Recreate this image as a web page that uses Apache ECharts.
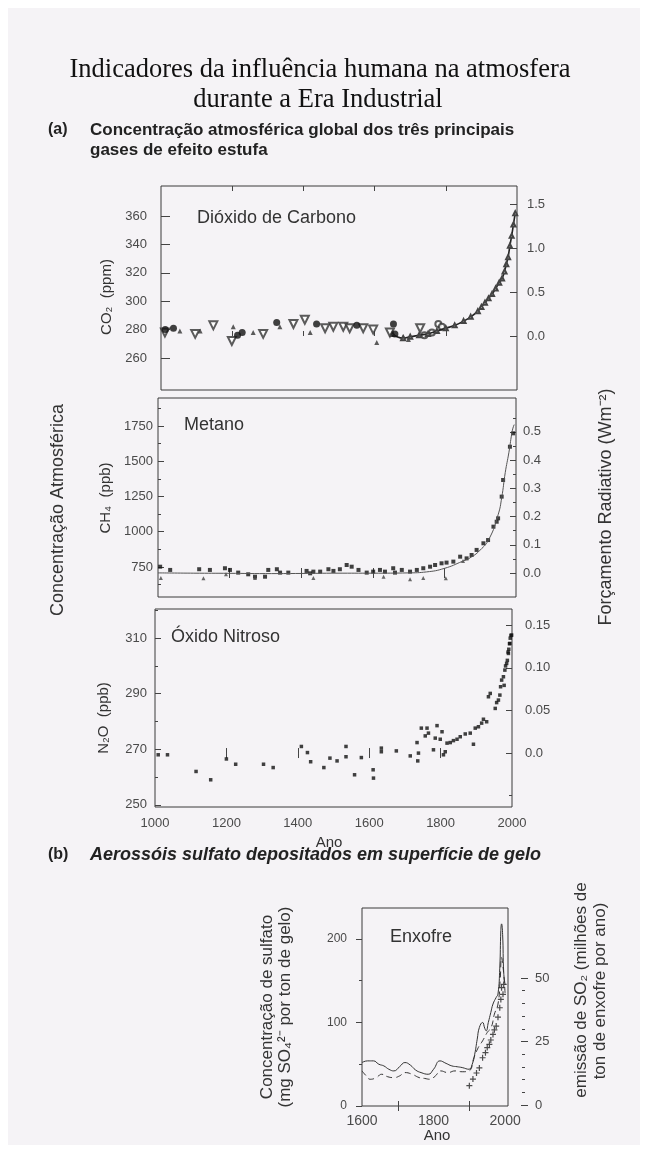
<!DOCTYPE html>
<html>
<head>
<meta charset="utf-8">
<script src="https://cdn.jsdelivr.net/npm/echarts@6/dist/echarts.min.js"></script>
<style>
html,body{margin:0;padding:0;background:#fff}
#c{width:648px;height:1153px}
</style>
</head>
<body>
<div id="c"></div>
<script>
// ---- Data: (year, value) ----
// CO2 (ppm): ice-core / firn trend and direct measurements
const co2Curve = [[1650,277],[1680,274],[1700,275],[1725,276],[1750,277],[1775,279],[1800,281],[1825,283],[1850,286],[1870,289],[1890,293],[1900,296],[1910,299],[1920,302],[1930,305],[1940,309],[1950,313],[1958,316],[1965,321],[1970,326],[1975,331],[1980,339],[1985,346],[1990,354],[1995,362]];
const co2Dots = [[1012,280],[1035,281],[1215,276],[1228,278],[1325,285],[1437,284],[1550,283],[1653,284],[1657,277]];
const co2InvTri = [[1011,278],[1096,277],[1147,283],[1199,272],[1287,277],[1372,284],[1404,287],[1461,281],[1484,282],[1512,282],[1530,281],[1568,281],[1596,280],[1643,278],[1728,281]];
const co2Tri = [[1053,279],[1110,279],[1203,282],[1259,278],[1334,282],[1419,278],[1606,271],[1681,275],[1695,273]];
const co2Ring = [[1740,276],[1761,278],[1779,284],[1789,282]];

// CH4 (ppb)
const ch4Curve = [[1000,708],[1100,706],[1200,705],[1300,703],[1400,704],[1500,706],[1600,706],[1700,708],[1750,715],[1800,740],[1850,790],[1875,820],[1900,870],[1925,950],[1950,1120],[1960,1240],[1970,1420],[1980,1560],[1990,1720],[1995,1760]];
const ch4Pts = [[1006,752],[1034,729],[1115,734],[1145,729],[1187,741],[1201,729],[1224,710],[1252,698],[1271,681],[1299,681],[1308,729],[1332,734],[1341,710],[1364,710],[1415,722],[1425,705],[1434,717],[1453,717],[1476,734],[1490,722],[1508,734],[1527,764],[1541,752],[1560,729],[1583,710],[1601,717],[1620,729],[1634,717],[1657,741],[1662,710],[1681,729],[1704,717],[1723,729],[1741,741],[1760,752],[1774,764],[1792,776],[1806,781],[1825,788],[1844,823],[1862,811],[1876,835],[1890,871],[1909,918],[1922,941],[1937,1036],[1946,1071],[1950,1095],[1960,1249],[1964,1367],[1983,1603],[1992,1698]];
const ch4Tri = [[1008,672],[1127,670],[1190,698],[1271,672],[1434,672],[1630,680],[1704,663],[1741,672],[1804,670],[1852,792]];

// N2O (ppb)
const n2oPts = [[1009,268],[1035,268],[1115,262],[1156,259],[1200,266.5],[1226,264.6],[1304,264.6],[1331,263.4],[1410,271],[1427,268.8],[1436,265.5],[1473,263.4],[1490,266.8],[1510,265.8],[1535,271],[1535,267.3],[1559,260.8],[1578,267],[1611,262.6],[1612,259.6],[1634,270.4],[1634,269.1],[1676,269.4],[1715,267.6],[1736,265.8],[1738,268.6],[1734,272.4],[1746,277.6],[1762,277.6],[1757,274.8],[1766,275.8],[1780,269.8],[1790,278.5],[1785,274],[1799,273.6],[1804,276.3],[1808,268],[1813,269.1],[1818,272.2],[1827,272.4],[1836,273.1],[1846,273.6],[1855,274.5],[1869,275.5],[1883,275.8],[1892,271.8],[1897,277.6],[1906,278.1],[1915,279.4],[1920,280.8],[1929,279.9],[1934,288.9],[1939,290.1],[1953,284.7],[1957,286.8],[1962,287.7],[1966,289.5],[1968,292.5],[1971,294.9],[1976,296.1],[1978,293],[1980,298.5],[1982,300],[1985,300.9],[1987,302],[1989,305],[1990,304.5],[1991,306],[1993,308],[1994,308.1],[1995,310],[1997,311],[1999,311.1]];

// Sulfate in Greenland ice (mg SO4 per ton of ice) and SO2 emissions (Mt S per year)
const sulfSolid = [[1600,52],[1615,54],[1632,54],[1647,50],[1661,48],[1675,44],[1689,42],[1705,47],[1720,52],[1735,49],[1750,43],[1765,40],[1785,38],[1800,44],[1818,54],[1835,51],[1851,48],[1866,47],[1880,46],[1899,44],[1908,50],[1915,62],[1922,80],[1928,94],[1937,100],[1943,93],[1947,90],[1953,100],[1960,112],[1966,122],[1975,130],[1980,134],[1985,165],[1988,210],[1990,218],[1993,205],[1996,160],[2000,145]];
const sulfDash = [[1600,42],[1612,36],[1623,32],[1640,34],[1655,38],[1672,35],[1689,34],[1705,36],[1720,40],[1740,38],[1760,34],[1775,33],[1790,32],[1805,36],[1820,42],[1840,40],[1860,42],[1880,41],[1899,42],[1913,58],[1925,70],[1937,78],[1950,88],[1961,94],[1970,110],[1980,122],[1986,150],[1990,178],[1993,170],[1996,158],[2000,134]];
const so2Emis = [[1900,8],[1910,10.6],[1920,13],[1928,15],[1937,19],[1945,21],[1950,23],[1956,24.3],[1960,26],[1966,28.2],[1970,30],[1975,31.5],[1980,35],[1985,38.7],[1988,42],[1990,46.6],[1994,44],[1996,47.9]];

// ---- Tick values ----
const yearTicks = [1000,1200,1400,1600,1800,2000];
const yearInnerTicks = [1200,1400,1600,1800];
const co2Ticks = [260,280,300,320,340,360];
const co2ForcingTicks = [0,0.5,1.0,1.5];
const ch4Ticks = [750,1000,1250,1500,1750];
const ch4MinorTicks = [625,875,1125,1375,1625,1875];
const ch4ForcingTicks = [0,0.1,0.2,0.3,0.4,0.5];
const ch4ForcingMinor = [0.05,0.15,0.25,0.35,0.45,0.55];
const n2oTicks = [250,270,290,310];
const n2oMinorTicks = [260,280,300,320];
const n2oForcingTicks = [0,0.05,0.10,0.15];
const n2oForcingMinor = [-0.05];
const sulfYearTicks = [1600,1800,2000];
const sulfYearInner = [1700,1900];
const sulfTicks = [0,100,200];
const sulfMinor = [50,150];
const so2Ticks = [0,25,50];
const so2Minor = [5,10,15,20,30,35,40,45];

// ---- Styling helpers ----
const INK = '#222';
const TICKCOL = '#444';
const SANS = '"Liberation Sans", Arial, sans-serif';
const LBL = {color:'#4a4a4a', fontFamily:SANS, fontSize:13};
const plain = v => String(v);

function xAx(grid, min, max, pos, ticks, labels, lblExtra) {
  return {
    gridIndex:grid, type:'value', min:min, max:max, position:pos,
    axisLine:{show:false},
    axisTick:{show:true, inside:true, length:5, lineStyle:{color:TICKCOL}, customValues:ticks},
    axisLabel:labels ? Object.assign({}, LBL, {customValues:labels, margin:10, formatter:plain}, lblExtra || {}) : {show:false},
    splitLine:{show:false}
  };
}
function yAx(grid, min, max, pos, ticks, tickLen, inside, labels, margin, fmt, lblExtra) {
  return {
    gridIndex:grid, type:'value', min:min, max:max, position:pos,
    axisLine:{show:false},
    axisTick:{show:true, inside:inside, length:tickLen, lineStyle:{color:TICKCOL}, customValues:ticks},
    axisLabel:labels ? Object.assign({}, LBL, {customValues:labels, margin:margin, formatter:fmt || plain}, lblExtra || {}) : {show:false},
    splitLine:{show:false}
  };
}
const f1 = v => v.toFixed(1);
const f2 = v => (v === 0 ? '0.0' : v.toFixed(2));

const boxStyle = {show:true, borderColor:'#3a3a3a', borderWidth:1, backgroundColor:'transparent'};

const option = {
  animation:false,
  backgroundColor:'#ffffff',
  grid:[
    Object.assign({left:161, top:186, width:356, height:204}, boxStyle),
    Object.assign({left:158, top:398, width:358, height:199}, boxStyle),
    Object.assign({left:155, top:609, width:357, height:198}, boxStyle),
    Object.assign({left:362, top:908, width:146, height:198}, boxStyle),
    {left:521, top:978, width:1, height:127, show:false}
  ],
  xAxis:[
    xAx(0,1000,2000,'bottom',yearInnerTicks,null),
    xAx(0,1000,2000,'top',yearInnerTicks,null),
    xAx(1,1000,2000,'bottom',yearInnerTicks,null),
    xAx(1,1000,2000,'top',yearInnerTicks,null),
    xAx(2,1000,2000,'bottom',yearInnerTicks,yearTicks),
    xAx(2,1000,2000,'top',yearInnerTicks,null),
    xAx(3,1600,2008,'bottom',sulfYearInner,sulfYearTicks,{margin:8,fontSize:14}),
    xAx(3,1600,2008,'top',sulfYearInner,null),
    {gridIndex:4, type:'value', min:0, max:1, show:false}
  ],
  yAxis:[
    // 0,1: CO2 panel
    yAx(0,237.5,381.1,'left',co2Ticks,9,true,co2Ticks,14),
    yAx(0,-0.614,1.705,'right',co2ForcingTicks,7,true,co2ForcingTicks,10,f1),
    // 2-5: CH4 panel
    yAx(1,537,1948.6,'left',ch4Ticks,6,true,ch4Ticks,5),
    yAx(1,537,1948.6,'left',ch4MinorTicks,3,true,null),
    yAx(1,-0.085,0.62,'right',ch4ForcingTicks,6,true,ch4ForcingTicks,7,f1),
    yAx(1,-0.085,0.62,'right',ch4ForcingMinor,3,true,null),
    // 6-9: N2O panel
    yAx(2,249.2,320.5,'left',n2oTicks,6,true,n2oTicks,8),
    yAx(2,249.2,320.5,'left',n2oMinorTicks,3,true,null),
    yAx(2,-0.0633,0.169,'right',n2oForcingTicks,6,true,n2oForcingTicks,13,f2),
    yAx(2,-0.0633,0.169,'right',n2oForcingMinor,3,true,null),
    // 10-12: sulfate panel (12 carries the emission scale, drawn on grid 4)
    yAx(3,0,237,'left',sulfTicks,6,false,sulfTicks,15,null,{fontSize:12}),
    yAx(3,0,237,'left',sulfMinor,3,false,null),
    {gridIndex:3, type:'value', min:0, max:78, position:'right', show:false},
    // 13,14: SO2 emission axis
    yAx(4,0,50,'right',so2Ticks,7,false,so2Ticks,13,null,{fontSize:13}),
    yAx(4,0,50,'right',so2Minor,3,false,null)
  ],
  series:[
    {type:'line', name:'co2', xAxisIndex:0, yAxisIndex:0, data:co2Curve, smooth:true,
     lineStyle:{color:'#222', width:1.6}, symbol:'emptyTriangle', symbolSize:4, showSymbol:true,
     itemStyle:{color:'#444', borderWidth:0.8}, silent:true, z:3},
    {type:'scatter', xAxisIndex:0, yAxisIndex:0, data:co2InvTri, symbol:'emptyTriangle', symbolRotate:180, symbolSize:8,
     itemStyle:{color:'#333', borderWidth:1}, silent:true},
    {type:'scatter', xAxisIndex:0, yAxisIndex:0, data:co2Tri, symbol:'triangle', symbolSize:5,
     itemStyle:{color:'#333'}, silent:true},
    {type:'scatter', xAxisIndex:0, yAxisIndex:0, data:co2Ring, symbol:'emptyCircle', symbolSize:6,
     itemStyle:{color:'#333', borderWidth:1}, silent:true},
    {type:'scatter', xAxisIndex:0, yAxisIndex:0, data:co2Dots, symbol:'circle', symbolSize:7,
     itemStyle:{color:'#111'}, silent:true, z:4},

    {type:'line', xAxisIndex:2, yAxisIndex:2, data:ch4Curve, smooth:true, showSymbol:false,
     lineStyle:{color:'#555', width:1}, silent:true},
    {type:'scatter', xAxisIndex:2, yAxisIndex:2, data:ch4Pts, symbol:'rect', symbolSize:4,
     itemStyle:{color:'#111'}, silent:true},
    {type:'scatter', xAxisIndex:2, yAxisIndex:2, data:ch4Tri, symbol:'triangle', symbolSize:4,
     itemStyle:{color:'#444'}, silent:true},

    {type:'scatter', xAxisIndex:4, yAxisIndex:6, data:n2oPts, symbol:'rect', symbolSize:3.5,
     itemStyle:{color:'#111'}, silent:true},

    {type:'line', xAxisIndex:6, yAxisIndex:10, data:sulfSolid, smooth:true, showSymbol:false,
     lineStyle:{color:'#333', width:1}, silent:true},
    {type:'line', xAxisIndex:6, yAxisIndex:10, data:sulfDash, smooth:true, showSymbol:false,
     lineStyle:{color:'#333', width:1, type:[6,4]}, silent:true},
    {type:'scatter', xAxisIndex:6, yAxisIndex:12, data:so2Emis,
     symbol:'path://M4,0h2v4h4v2h-4v4h-2v-4h-4v-2h4z', symbolSize:6,
     itemStyle:{color:'#222'}, silent:true},

    // carries the SO2 axis in grid 4
    {type:'line', xAxisIndex:8, yAxisIndex:13, data:[], silent:true}
  ],
  graphic:{elements:[
    {type:'rect', z:-100, shape:{x:8, y:8, width:632, height:1137}, style:{fill:'#f5f3f6'}},
    {type:'text', x:320, y:70, style:{text:'Indicadores da influência humana na atmosfera', font:'26.5px "Liberation Serif", serif', fill:'#111', align:'center', verticalAlign:'middle'}},
    {type:'text', x:318, y:100, style:{text:'durante a Era Industrial', font:'26.5px "Liberation Serif", serif', fill:'#111', align:'center', verticalAlign:'middle'}},
    {type:'text', x:48, y:130, style:{text:'(a)', font:'bold 16px ' + SANS, fill:INK, verticalAlign:'middle'}},
    {type:'text', x:90, y:130, style:{text:'Concentração atmosférica global dos três principais', font:'bold 17px ' + SANS, fill:INK, verticalAlign:'middle'}},
    {type:'text', x:90, y:150, style:{text:'gases de efeito estufa', font:'bold 17px ' + SANS, fill:INK, verticalAlign:'middle'}},

    {type:'text', x:197, y:218, style:{text:'Dióxido de Carbono', font:'18px ' + SANS, fill:'#333', verticalAlign:'middle'}},
    {type:'text', x:184, y:425, style:{text:'Metano', font:'18px ' + SANS, fill:'#333', verticalAlign:'middle'}},
    {type:'text', x:171, y:637, style:{text:'Óxido Nitroso', font:'18px ' + SANS, fill:'#333', verticalAlign:'middle'}},

    {type:'text', x:107, y:297, rotation:Math.PI/2, style:{text:'CO₂  (ppm)', font:'15px ' + SANS, fill:'#333', align:'center', verticalAlign:'middle'}},
    {type:'text', x:106, y:498, rotation:Math.PI/2, style:{text:'CH₄  (ppb)', font:'15px ' + SANS, fill:'#333', align:'center', verticalAlign:'middle'}},
    {type:'text', x:104, y:718, rotation:Math.PI/2, style:{text:'N₂O  (ppb)', font:'15px ' + SANS, fill:'#333', align:'center', verticalAlign:'middle'}},

    {type:'text', x:58, y:510, rotation:Math.PI/2, style:{text:'Concentração Atmosférica', font:'18px ' + SANS, fill:'#333', align:'center', verticalAlign:'middle'}},
    {type:'text', x:606, y:507, rotation:Math.PI/2, style:{text:'Forçamento Radiativo (Wm⁻²)', font:'18px ' + SANS, fill:'#333', align:'center', verticalAlign:'middle'}},
    {type:'text', x:329, y:843, style:{text:'Ano', font:'15px ' + SANS, fill:'#333', align:'center', verticalAlign:'middle'}},

    {type:'text', x:48, y:855, style:{text:'(b)', font:'bold 16px ' + SANS, fill:INK, verticalAlign:'middle'}},
    {type:'text', x:90, y:855, style:{text:'Aerossóis sulfato depositados em superfície de gelo', font:'italic bold 18px ' + SANS, fill:INK, verticalAlign:'middle'}},

    {type:'text', x:390, y:937, style:{text:'Enxofre', font:'18px ' + SANS, fill:'#333', verticalAlign:'middle'}},
    {type:'text', x:267, y:1007, rotation:Math.PI/2, style:{text:'Concentração de sulfato', font:'17px ' + SANS, fill:'#333', align:'center', verticalAlign:'middle'}},
    {type:'text', x:285, y:1007, rotation:Math.PI/2, style:{text:'(mg SO₄²⁻ por ton de gelo)', font:'17px ' + SANS, fill:'#333', align:'center', verticalAlign:'middle'}},
    {type:'text', x:581, y:990, rotation:Math.PI/2, style:{text:'emissão de SO₂ (milhões de', font:'17px ' + SANS, fill:'#333', align:'center', verticalAlign:'middle'}},
    {type:'text', x:600, y:991, rotation:Math.PI/2, style:{text:'ton de enxofre por ano)', font:'17px ' + SANS, fill:'#333', align:'center', verticalAlign:'middle'}},
    {type:'text', x:437, y:1136, style:{text:'Ano', font:'15px ' + SANS, fill:'#333', align:'center', verticalAlign:'middle'}}
  ]}
};

const chart = echarts.init(document.getElementById('c'), null, {renderer:'canvas'});
chart.setOption(option);
</script>
</body>
</html>
